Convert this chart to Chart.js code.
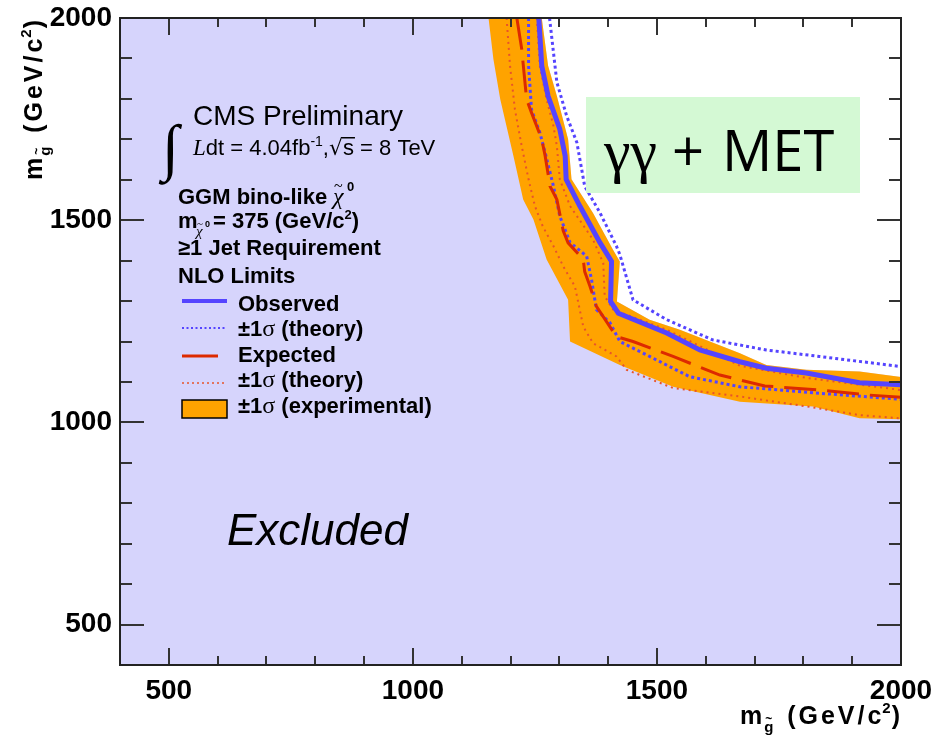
<!DOCTYPE html>
<html lang="en">
  <head>
    <meta charset="UTF-8" />
    <title>GGM bino-like limits</title>
    <script src="https://cdn.jsdelivr.net/npm/chart.js"></script>
    <style>
      * {
        margin: 0;
        padding: 0;
        box-sizing: border-box;
      }
      body {
        background: #fff;
        width: 948px;
        height: 736px;
        overflow: hidden;
      }
    </style>
  </head>
  <body>
    <canvas id="limits" width="948" height="736"></canvas>

    <script>
      // squark mass (x) and gluino mass (y) along each contour, GeV/c^2
      const obsSquark = [1258, 1264, 1277, 1301, 1312, 1314, 1342, 1383, 1407, 1405, 1421, 1520, 1588, 1670, 1724, 1806, 1915, 2000];
      const obsGluino = [2000, 1882, 1807, 1725, 1659, 1601, 1535, 1445, 1398, 1299, 1270, 1221, 1179, 1150, 1134, 1122, 1098, 1093];

      const obsUpSquark = [1280, 1295, 1315, 1336, 1352, 1383, 1417, 1424, 1451, 1520, 1614, 1724, 1833, 2000];
      const obsUpGluino = [2000, 1841, 1758, 1692, 1584, 1519, 1436, 1415, 1303, 1254, 1204, 1179, 1163, 1138];

      const obsDnSquark = [1237, 1237, 1243, 1260, 1271, 1288, 1301, 1322, 1356, 1366, 1376, 1404, 1424, 1485, 1567, 1670, 1833, 2000];
      const obsDnGluino = [2000, 1882, 1774, 1717, 1667, 1584, 1510, 1445, 1411, 1353, 1279, 1246, 1200, 1163, 1113, 1088, 1072, 1057];

      const expSquark = [1213, 1223, 1233, 1243, 1264, 1271, 1281, 1295, 1308, 1318, 1349, 1352, 1363, 1376, 1417, 1451, 1533, 1629, 1721, 1833, 1929, 2000];
      const expGluino = [2000, 1923, 1799, 1766, 1700, 1659, 1584, 1551, 1474, 1444, 1403, 1373, 1336, 1287, 1212, 1200, 1163, 1117, 1090, 1080, 1068, 1062];

      const expUpSquark = [1254, 1260, 1274, 1288, 1295, 1301, 1322, 1369, 1390, 1393, 1410, 1520, 1670, 1806, 2000];
      const expUpGluino = [2000, 1882, 1799, 1733, 1683, 1601, 1535, 1452, 1394, 1312, 1279, 1229, 1140, 1110, 1080];

      const expDnSquark = [1192, 1199, 1209, 1223, 1237, 1250, 1266, 1288, 1308, 1332, 1349, 1369, 1417, 1438, 1533, 1670, 1820, 1915, 2000];
      const expDnGluino = [2000, 1882, 1774, 1683, 1601, 1535, 1485, 1436, 1386, 1336, 1237, 1196, 1163, 1130, 1085, 1064, 1037, 1018, 1010];

      // experimental +-1 sigma band edges
      const bandHiSquark = [1264, 1277, 1295, 1318, 1325, 1369, 1410, 1424, 1418, 1485, 1547, 1670, 1724, 1806, 1915, 2000];
      const bandHiGluino = [2000, 1882, 1807, 1700, 1601, 1518, 1427, 1398, 1299, 1254, 1229, 1171, 1142, 1130, 1126, 1112];
      const bandLoSquark = [1155, 1165, 1179, 1206, 1226, 1247, 1274, 1318, 1322, 1424, 1533, 1670, 1820, 1915, 2000];
      const bandLoGluino = [2000, 1898, 1799, 1659, 1551, 1502, 1403, 1303, 1200, 1142, 1088, 1051, 1039, 1010, 1008];

      const xTickLabels = [500, 1000, 1500, 2000];
      const yTickLabels = [500, 1000, 1500, 2000];

      const LAVENDER = "#d6d4fc";
      const ORANGE = "#ffa300";
      const BLUE = "#5544ff";
      const RED = "#dd2a00";
      const RED_DOT = "#e8542a";

      function pts(xs, ys) {
        return xs.map((x, i) => ({ x: x, y: ys[i] }));
      }

      function curve(label, xs, ys, color, width, dash, order) {
        return {
          label: label,
          data: pts(xs, ys),
          borderColor: color,
          borderWidth: width,
          borderDash: dash,
          borderCapStyle: dash.length ? "butt" : "round",
          pointRadius: 0,
          fill: false,
          tension: 0,
          order: order,
        };
      }

      function shape(label, xs, ys, color, order) {
        return {
          label: label,
          data: pts(xs, ys),
          borderColor: "rgba(0,0,0,0)",
          borderWidth: 1,
          backgroundColor: color,
          pointRadius: 0,
          fill: "shape",
          tension: 0,
          order: order,
        };
      }

      // draw a sequence of text pieces, each with its own font and offset
      function runs(ctx, x, y, parts) {
        parts.forEach((p) => {
          ctx.font = p.f;
          ctx.fillText(p.t, x, y + (p.dy || 0));
          x += ctx.measureText(p.t).width + (p.gap || 0);
        });
        return x;
      }

      function axisTitle(ctx) {
        const B = '"Liberation Sans", Arial, sans-serif';
        ctx.letterSpacing = "3px";
        let x = runs(ctx, 0, 0, [{ t: "m", f: "bold 25px " + B }]);
        runs(ctx, x - 1, 0, [{ t: "g", f: "bold 15px " + B, dy: 8 }]);
        ctx.letterSpacing = "0px";
        runs(ctx, x, 0, [{ t: "~", f: "bold 12px " + B, dy: -1 }]);
        ctx.letterSpacing = "3px";
        x += 12;
        x = runs(ctx, x, 0, [{ t: " (GeV/c", f: "bold 25px " + B }]);
        x = runs(ctx, x - 2, 0, [{ t: "2", f: "bold 15px " + B, dy: -11 }]);
        runs(ctx, x - 2, 0, [{ t: ")", f: "bold 25px " + B }]);
        ctx.letterSpacing = "0px";
      }

      const decor = {
        id: "decor",
        beforeDraw(chart) {
          const { ctx, chartArea: a } = chart;
          ctx.save();
          ctx.fillStyle = LAVENDER;
          ctx.fillRect(a.left, a.top, a.width, a.height);
          ctx.restore();
        },
        afterDatasetsDraw(chart) {
          const ctx = chart.ctx;
          const S = '"Liberation Sans", Arial, sans-serif';
          const R = '"Liberation Serif", "Times New Roman", serif';
          ctx.save();
          ctx.fillStyle = "#000";
          ctx.textAlign = "left";
          ctx.textBaseline = "alphabetic";

          // channel label
          ctx.fillStyle = "#d4f9d4";
          ctx.fillRect(586, 97, 274, 96);
          ctx.fillStyle = "#000";
          ctx.font = "60px " + R;
          ctx.fillText("\u03b3\u03b3", 604, 171);
          ctx.font = '56px "Open Sans", sans-serif';
          ctx.fillText("+", 672, 171);
          ctx.fillText("MET", 722, 171);

          // header
          ctx.font = "28px " + S;
          ctx.fillText("CMS Preliminary", 193, 125);
          ctx.font = "italic 62px " + R;
          ctx.fillText("\u222b", 162, 168);
          let x = runs(ctx, 193, 155, [
            { t: "L", f: "italic 23px " + R },
            { t: "dt = 4.04fb", f: "22px " + S },
            { t: "-1", f: "14px " + S, dy: -9 },
            { t: ",", f: "22px " + S },
            { t: "\u221a", f: '22px "DejaVu Sans", sans-serif' },
          ]);
          ctx.font = "22px " + S;
          const sw = ctx.measureText("s").width;
          ctx.fillRect(x - 1, 137, sw + 2, 1.5);
          runs(ctx, x, 155, [{ t: "s = 8 TeV", f: "22px " + S }]);

          const BF = "bold 22px " + S;
          ctx.font = BF;
          ctx.fillText("GGM bino-like", 178, 204);
          ctx.font = "italic 24px " + R;
          ctx.fillText("\u03c7", 333, 204);
          ctx.font = "16px " + R;
          ctx.fillText("~", 334, 191);
          ctx.font = "bold 13px " + S;
          ctx.fillText("0", 347, 191);

          ctx.font = BF;
          ctx.fillText("m", 178, 228);
          ctx.font = "italic 15px " + R;
          ctx.fillText("\u03c7", 196, 236);
          ctx.font = "11px " + R;
          ctx.fillText("~", 197, 227);
          ctx.font = "bold 9px " + S;
          ctx.fillText("0", 205, 227);
          x = runs(ctx, 213, 228, [
            { t: "= 375 (GeV/c", f: BF },
            { t: "2", f: "bold 13px " + S, dy: -9 },
            { t: ")", f: BF },
          ]);

          ctx.font = BF;
          ctx.fillText("\u22651 Jet Requirement", 178, 255);
          ctx.fillText("NLO Limits", 178, 283);

          // legend entries
          const sig = (y, tail) =>
            runs(ctx, 238, y, [
              { t: "\u00b11", f: BF },
              { t: "\u03c3", f: "24px " + R },
              { t: tail, f: BF },
            ]);
          ctx.fillText("Observed", 238, 311);
          sig(336, " (theory)");
          ctx.font = BF;
          ctx.fillText("Expected", 238, 362);
          sig(387, " (theory)");
          sig(413, " (experimental)");

          const seg = (y, x2, color, w, dash) => {
            ctx.beginPath();
            ctx.setLineDash(dash);
            ctx.strokeStyle = color;
            ctx.lineWidth = w;
            ctx.moveTo(182, y);
            ctx.lineTo(x2, y);
            ctx.stroke();
          };
          seg(301, 227, BLUE, 4, []);
          seg(328, 227, BLUE, 2, [2, 2.5]);
          seg(356, 218, RED, 3, []);
          seg(383, 227, RED_DOT, 1.5, [2, 3]);
          ctx.setLineDash([]);
          ctx.fillStyle = ORANGE;
          ctx.fillRect(182, 400, 45, 18);
          ctx.strokeStyle = "#000";
          ctx.lineWidth = 1.5;
          ctx.strokeRect(182, 400, 45, 18);

          ctx.fillStyle = "#000";
          ctx.font = "italic 44px " + S;
          ctx.fillText("Excluded", 227, 545);
          ctx.restore();
        },
        afterDraw(chart) {
          const { ctx, chartArea: a, scales } = chart;
          ctx.save();
          // inward ticks on all four sides
          ctx.strokeStyle = "#333";
          ctx.lineWidth = 2;
          ctx.beginPath();
          scales.x.ticks.forEach((t) => {
            const px = Math.round(scales.x.getPixelForValue(t.value));
            const len = t.value % 500 === 0 ? 17 : 9;
            ctx.moveTo(px, a.bottom);
            ctx.lineTo(px, a.bottom - len);
            ctx.moveTo(px, a.top);
            ctx.lineTo(px, a.top + len);
          });
          scales.y.ticks.forEach((t) => {
            const py = Math.round(scales.y.getPixelForValue(t.value));
            const len = t.value % 500 === 0 ? 24 : 12;
            ctx.moveTo(a.left, py);
            ctx.lineTo(a.left + len, py);
            ctx.moveTo(a.right, py);
            ctx.lineTo(a.right - len, py);
          });
          ctx.stroke();
          ctx.strokeStyle = "#222";
          ctx.strokeRect(a.left, a.top, a.width, a.height);

          // axis titles
          ctx.fillStyle = "#000";
          ctx.save();
          ctx.translate(740, 724);
          axisTitle(ctx);
          ctx.restore();
          ctx.save();
          ctx.translate(42, 180);
          ctx.rotate(-Math.PI / 2);
          axisTitle(ctx);
          ctx.restore();
          ctx.restore();
        },
      };

      const tickFont = {
        family: '"Liberation Sans", Arial, sans-serif',
        size: 28,
        weight: "bold",
      };

      new Chart(document.getElementById("limits"), {
        type: "line",
        data: {
          datasets: [
            curve("Observed", obsSquark, obsGluino, BLUE, 5, [], 1),
            curve("Observed +1 sigma (theory)", obsUpSquark, obsUpGluino, BLUE, 3, [3, 3], 2),
            curve("Expected", expSquark, expGluino, RED, 3, [32, 11], 3),
            curve("Observed -1 sigma (theory)", obsDnSquark, obsDnGluino, BLUE, 3, [3, 3], 4),
            curve("Expected +1 sigma (theory)", expUpSquark, expUpGluino, RED_DOT, 2, [2, 4], 5),
            curve("Expected -1 sigma (theory)", expDnSquark, expDnGluino, RED_DOT, 2, [2, 4], 6),
            shape(
              "+-1 sigma (experimental)",
              bandHiSquark.concat(bandLoSquark.slice().reverse()),
              bandHiGluino.concat(bandLoGluino.slice().reverse()),
              ORANGE,
              7
            ),
            shape("Allowed", bandHiSquark.concat([2000]), bandHiGluino.concat([2000]), "#ffffff", 8),
          ],
        },
        options: {
          responsive: false,
          animation: false,
          layout: { padding: { top: 18, right: 47, left: 0, bottom: 0 } },
          plugins: {
            legend: { display: false },
            tooltip: { enabled: false },
          },
          scales: {
            x: {
              type: "linear",
              min: 400,
              max: 2000,
              grid: { display: false, drawTicks: false },
              border: { display: false },
              ticks: {
                stepSize: 100,
                autoSkip: false,
                maxRotation: 0,
                padding: 9,
                color: "#000",
                font: tickFont,
                callback: (v) => (xTickLabels.includes(v) ? v : ""),
              },
              afterFit: (scale) => {
                scale.height = 71;
                scale.paddingLeft = 0;
                scale.paddingRight = 0;
              },
            },
            y: {
              type: "linear",
              min: 400,
              max: 2000,
              grid: { display: false, drawTicks: false },
              border: { display: false },
              ticks: {
                stepSize: 100,
                autoSkip: false,
                padding: 8,
                color: "#000",
                font: tickFont,
                callback: (v) => (yTickLabels.includes(v) ? v : ""),
              },
              afterFit: (scale) => {
                scale.width = 120;
                scale.paddingTop = 0;
                scale.paddingBottom = 0;
              },
            },
          },
        },
        plugins: [decor],
      });
    </script>
  </body>
</html>
